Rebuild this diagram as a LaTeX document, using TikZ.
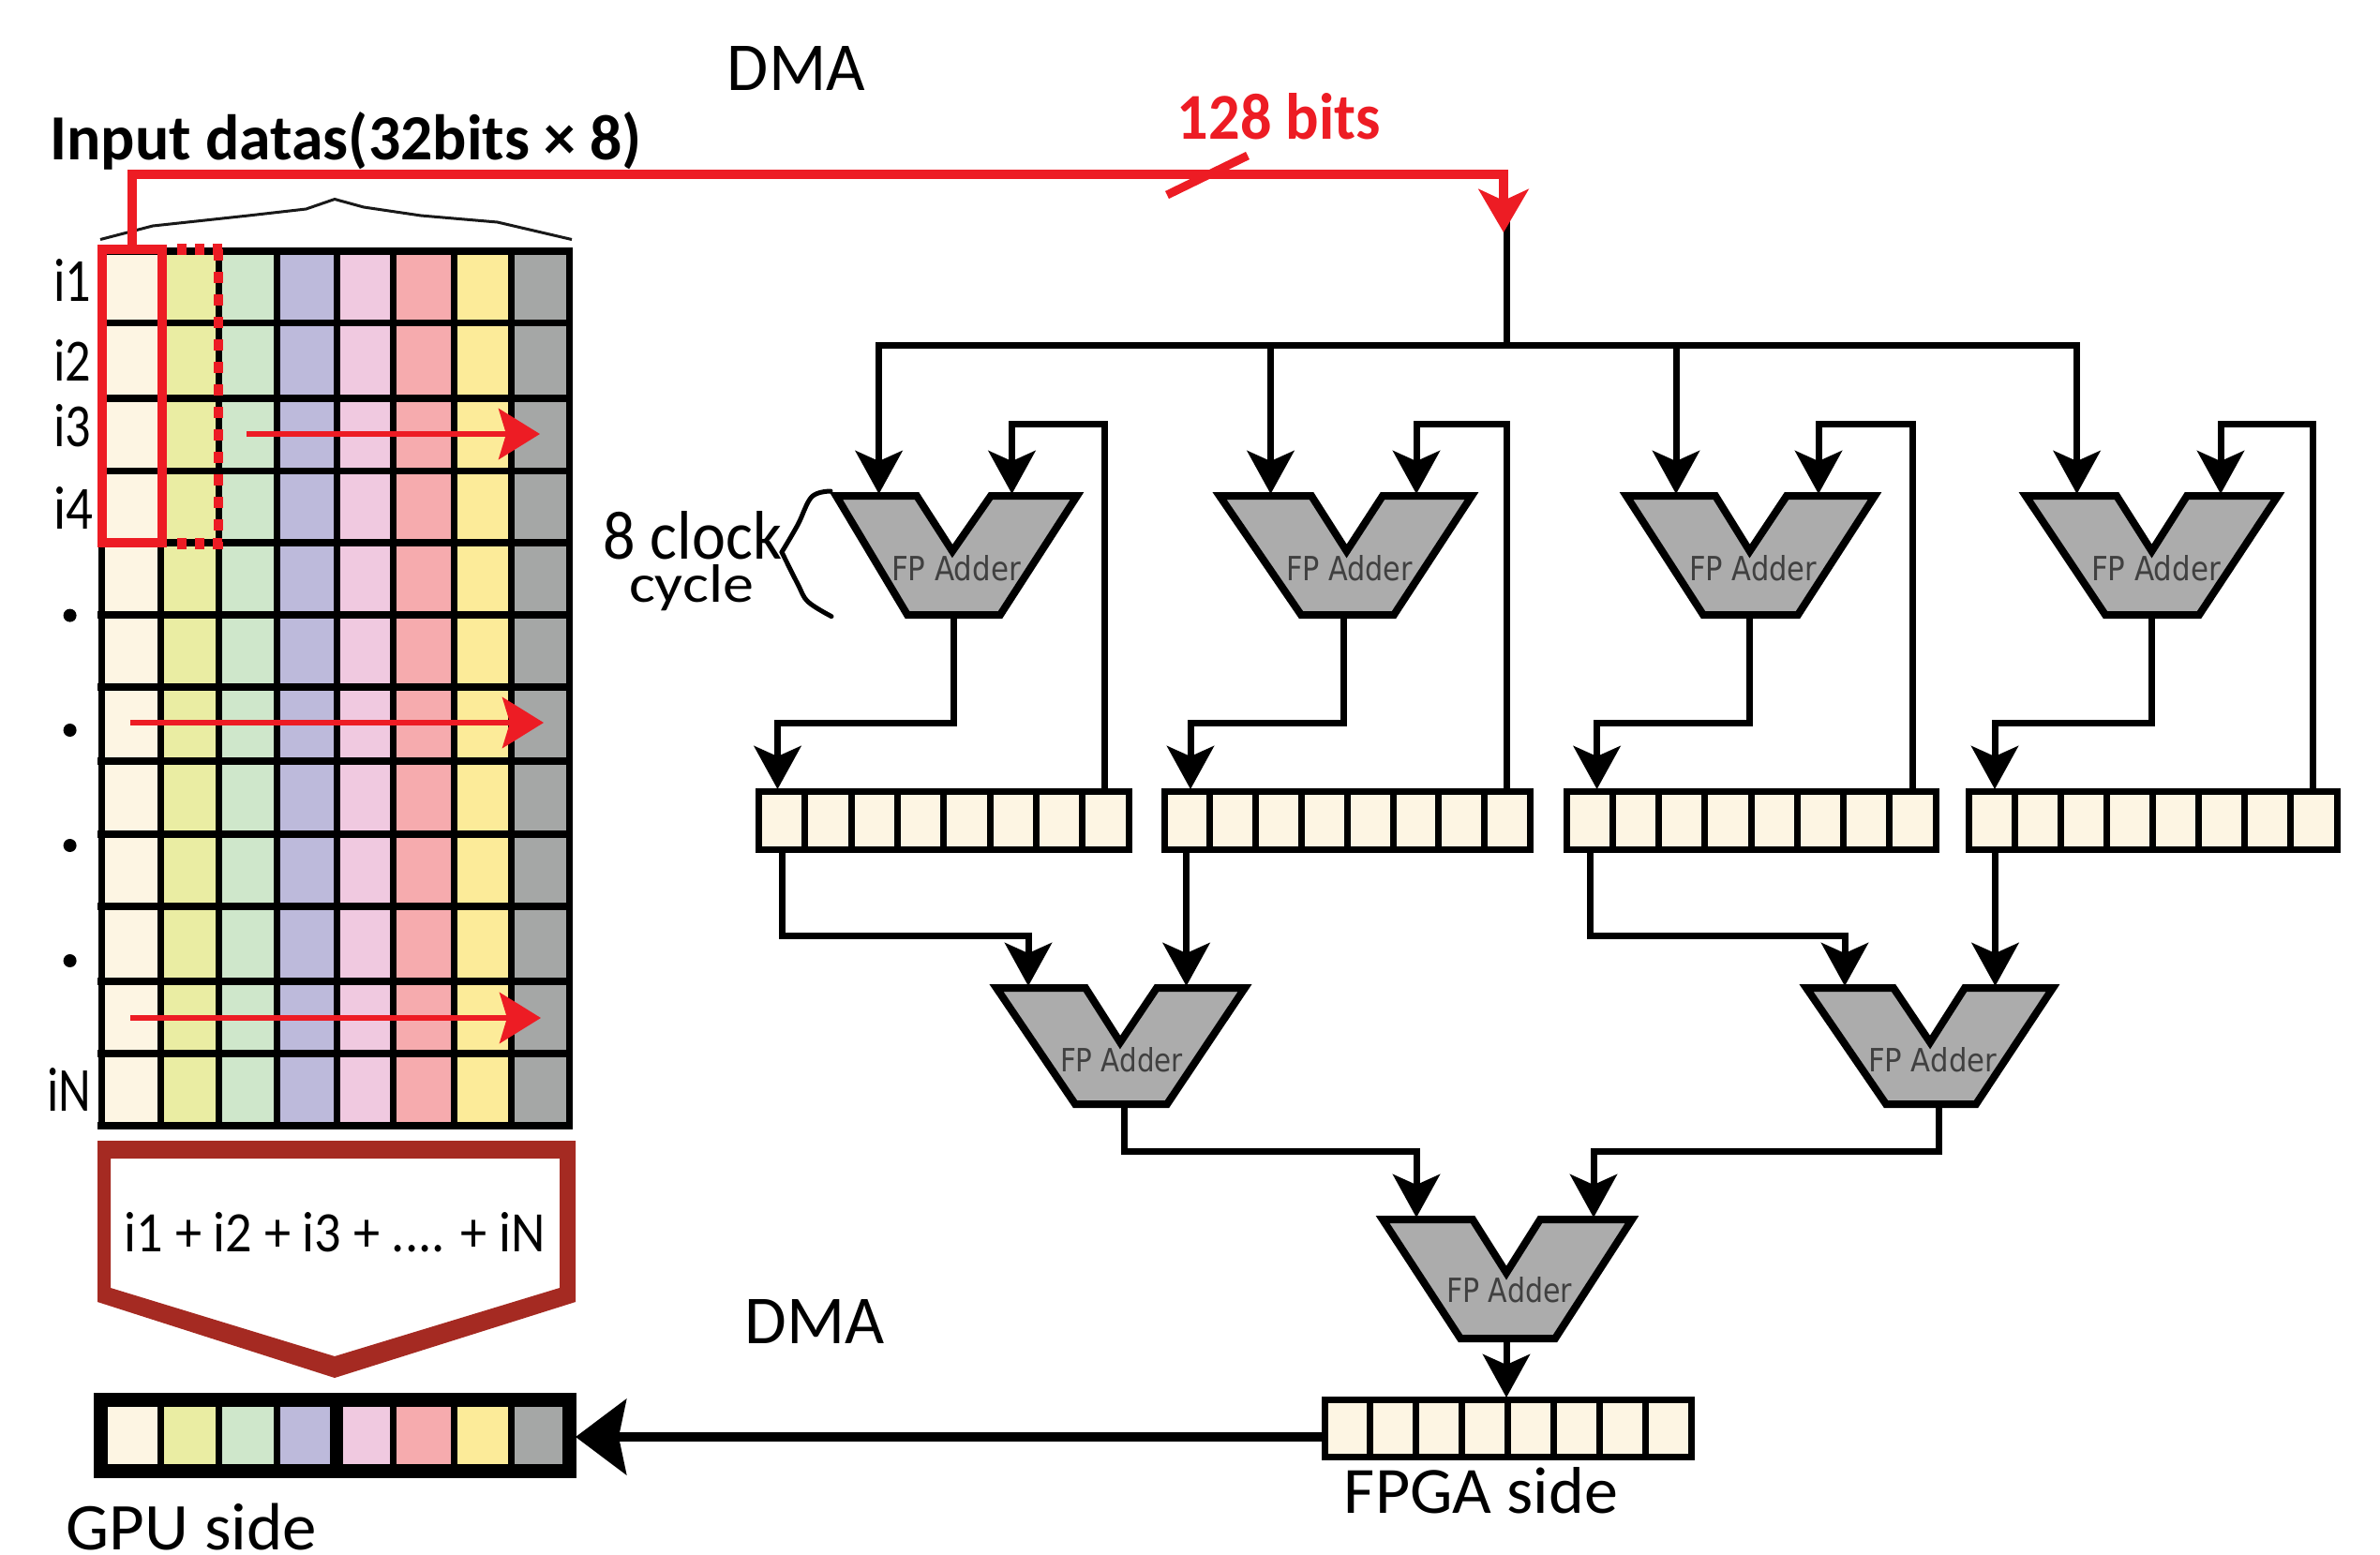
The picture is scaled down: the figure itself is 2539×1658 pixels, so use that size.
\documentclass[tikz,border=0pt]{standalone}
\usepackage{fontspec}
\usepackage{graphicx}
\setmainfont{Carlito}
\newfontfamily\addfont{DejaVu Sans}
\usetikzlibrary{arrows.meta}
\definecolor{cCream}{HTML}{FDF5E3}
\definecolor{cLime}{HTML}{EAEDA3}
\definecolor{cGreen}{HTML}{CFE7CB}
\definecolor{cPurple}{HTML}{BDBADB}
\definecolor{cPink}{HTML}{F0C9E0}
\definecolor{cSalmon}{HTML}{F6ABAE}
\definecolor{cYellow}{HTML}{FCEB99}
\definecolor{cGray}{HTML}{A5A7A6}
\definecolor{cAdder}{HTML}{ACACAC}
\definecolor{cRed}{HTML}{ED1C24}
\definecolor{cBrick}{HTML}{A52A22}
\tikzset{
  conn/.style={line width=7pt,draw=black,-{Stealth[length=46pt,width=50pt,inset=11pt]}},
  wire/.style={line width=7pt,draw=black,line cap=rect},
  adderbox/.style={fill=cAdder,draw=black,line width=8pt,line join=miter,miter limit=10},
  regbox/.style={fill=cCream,draw=black,line width=7pt},
  redpath/.style={draw=cRed,line width=10pt},
  redscan/.style={draw=cRed,line width=6pt,-{Stealth[length=44pt,width=54pt,inset=8pt]}},
  lblnode/.style={inner sep=0pt,outer sep=0pt,anchor=base},
  dotmark/.style={circle,fill=black,inner sep=0pt,minimum size=14pt}
}
% name, centre x, baseline y, width, height, font, text
\newcommand{\lbl}[7]{\node[lblnode] (#1) at (#2,#3) {\resizebox{#4pt}{#5pt}{#6#7}};}
% name, x0, x1, y0, y1
\newcommand{\regbank}[5]{%
  \draw[regbox] (#2,#4) rectangle (#3,#5);
  \foreach \k in {1,...,7}{
    \pgfmathsetmacro{\xk}{#2+(#3-#2)*\k/8}
    \draw[line width=7pt] (\xk,#4) -- (\xk,#5);
  }
  \coordinate (#1) at (#2,#4);
}
\begin{document}
\begin{tikzpicture}[x=1pt,y=-1pt]
\useasboundingbox (0,0) rectangle (2539,1658);
\fill[white] (0,0) rectangle (2539,1658);

% ---------- input matrix
\foreach \xa/\xb/\c in {108/171.5/cCream,171.5/233/cLime,233/295/cGreen,295/359/cPurple,359/419.5/cPink,419.5/484/cSalmon,484/545.5/cYellow,545.5/607.5/cGray}{
  \fill[\c] (\xa,268) rectangle (\xb,1201);
}
\foreach \yy in {268,344.5,425,502.5,579,656,733,812,890,967,1047,1124,1201}{
  \draw[line width=7.5pt,line cap=rect] (108,\yy) -- (607.5,\yy);
}
\foreach \xx in {108,171.5,233,295,359,419.5,484,545.5,607.5}{
  \draw[line width=7pt] (\xx,268) -- (\xx,1201);
}
% scan arrows
\coordinate (sa1) at (263,463);   \coordinate (sb1) at (576,463);
\coordinate (sa2) at (139,771);   \coordinate (sb2) at (580,771);
\coordinate (sa3) at (139,1086);  \coordinate (sb3) at (577,1086);
\draw[redscan] (sa1) -- (sb1);
\draw[redscan] (sa2) -- (sb2);
\draw[redscan] (sa3) -- (sb3);
% red selection
\draw[redpath,line join=miter] (108.5,266) rectangle (173,579);
\draw[draw=cRed,line width=10pt,dash pattern=on 12pt off 12pt] (233,266) -- (233,586);
\draw[draw=cRed,line width=12pt,dash pattern=on 10pt off 9pt] (189,266) -- (238,266);
\draw[draw=cRed,line width=12pt,dash pattern=on 10pt off 9pt] (189,580) -- (238,580);

% brace above the matrix
\draw[line width=3pt,black!90] (107,255.5) -- (163,241) -- (265,230) -- (326.5,223) -- (357,212.5) -- (388,221) -- (449,230) -- (530.6,237) -- (610,255.5);

% ---------- red DMA link
\coordinate (redstart) at (141,262);
\coordinate (redtip) at (1604,248);
\coordinate (riser) at (1607,218);
\coordinate (riserb) at (1607,368);
\draw[wire] (riser) -- (riserb);
\draw[redpath,-{Stealth[length=46pt,width=53pt,inset=12pt]}] (redstart) |- (redtip |- 0,185.5) -- (redtip);
\draw[draw=cRed,line width=9pt] (1245,208) -- (1331,166);

% ---------- bus
\coordinate (busL) at (937.6,368);
\coordinate (busR) at (2215.6,368);
\draw[wire] (busL) -- (busR);

% ---------- connectors into the first row of adders
\foreach \n/\xi/\xf/\xr/\xo/\xd/\xrr in {
  1/937.6/1079.5/1178.5/1017/829.5/1204,
  2/1355.5/1511/1607/1433.6/1270/1632.5,
  3/1788/1940/2040/1866.6/1703.6/2065,
  4/2215.6/2369/2467/2295.5/2128/2493}{
  \coordinate (B\n) at (\xi,368);
  \coordinate (Ain\n) at (\xi,527);
  \coordinate (Afbin\n) at (\xf,527);
  \coordinate (Afbtop\n) at (\xf,452);
  \coordinate (Rfb\n) at (\xr,844);
  \coordinate (Aout\n) at (\xo,656);
  \coordinate (Rin\n) at (\xd,842);
  \draw[conn] (B\n) -- (Ain\n);
  \draw[conn] (Rfb\n) |- (Afbtop\n) -- (Afbin\n);
  \draw[conn] (Aout\n) |- (\xd,771) -- (Rin\n);
}

% ---------- adders, first row
\draw[adderbox] (892,529) -- (978,529) -- (1016,588) -- (1057,529) -- (1149,529) -- (1067,656) -- (968,656) -- cycle;
\draw[adderbox] (1301,529) -- (1399,529) -- (1436.6,588) -- (1475,529) -- (1570,529) -- (1487,656) -- (1388,656) -- cycle;
\draw[adderbox] (1735,529) -- (1830,529) -- (1866.6,588) -- (1906,529) -- (2000,529) -- (1918,656) -- (1817,656) -- cycle;
\draw[adderbox] (2161,529) -- (2258,529) -- (2295.5,588) -- (2333,529) -- (2430,529) -- (2346,656) -- (2246,656) -- cycle;
% adders, second row
\draw[adderbox] (1063,1054) -- (1158,1054) -- (1195,1112) -- (1234,1054) -- (1328,1054) -- (1245,1178) -- (1147,1178) -- cycle;
\draw[adderbox] (1927,1054) -- (2020,1054) -- (2059,1112) -- (2096,1054) -- (2190,1054) -- (2108,1178) -- (2012,1178) -- cycle;
% adder, third row
\draw[adderbox] (1475,1301) -- (1571,1301) -- (1607,1358) -- (1643,1301) -- (1741,1301) -- (1659,1428) -- (1558,1428) -- cycle;

% ---------- register banks
\regbank{R1}{809.5}{1204}{844}{906}
\regbank{R2}{1242}{1632.5}{844}{906}
\regbank{R3}{1671}{2065}{844}{906}
\regbank{R4}{2100}{2493}{844}{906}
\regbank{R5}{1413}{1804}{1493}{1554}

% ---------- second level connectors
\coordinate (ro1) at (834.5,906);  \coordinate (ci1) at (1097,1052);
\coordinate (ro2) at (1265.6,906); \coordinate (ci2) at (1265.6,1052);
\coordinate (ro3) at (1696,906);   \coordinate (ci3) at (1968,1052);
\coordinate (ro4) at (2128.5,906); \coordinate (ci4) at (2128.5,1052);
\draw[conn] (ro1) |- (1097,998) -- (ci1);
\draw[conn] (ro2) -- (ci2);
\draw[conn] (ro3) |- (1968,998) -- (ci3);
\draw[conn] (ro4) -- (ci4);

% ---------- third level connectors
\coordinate (bo1) at (1199.6,1178); \coordinate (di1) at (1511,1299);
\coordinate (bo2) at (2068,1178);   \coordinate (di2) at (1700,1299);
\draw[conn] (bo1) |- (1511,1228) -- (di1);
\draw[conn] (bo2) |- (1700,1228) -- (di2);
\coordinate (co) at (1607,1428); \coordinate (ri5) at (1607,1491);
\draw[conn] (co) -- (ri5);

% ---------- sum pentagon
\fill[cBrick,even odd rule] (104,1217) -- (614,1217) -- (614,1389) -- (357,1470) -- (104,1389) -- cycle
  (118,1236) -- (597,1236) -- (597,1374) -- (357,1447) -- (118,1374) -- cycle;

% ---------- GPU result row
\foreach \xa/\xb/\c in {107/171/cCream,171/233/cLime,233/295/cGreen,295/359/cPurple,359/419/cPink,419/484/cSalmon,484/545/cYellow,545/607/cGray}{
  \fill[\c] (\xa,1493) rectangle (\xb,1569.5);
}
\foreach \xx in {171,233,295,419,484,545}{
  \draw[line width=7pt] (\xx,1493) -- (\xx,1569.5);
}
\draw[line width=14pt] (359,1493) -- (359,1569.5);
\draw[line width=15pt] (107,1493) rectangle (607,1569.5);
\coordinate (gpuport) at (614,1533);
\coordinate (fpgaport) at (1411,1533);
\draw[line width=10pt,-{Stealth[length=54pt,width=80pt,inset=8pt]}] (fpgaport) -- (gpuport);

% ---------- curly mark
\draw[line width=5pt,line cap=round] plot[smooth,tension=.6] coordinates {(886,524) (866,530) (851,560) (834,589)};
\draw[line width=5pt,line cap=round] plot[smooth,tension=.6] coordinates {(834,589) (851,623) (862,642) (887,657.6)};

% ---------- labels
\lbl{tDma1}{849.5}{96}{147}{47}{}{DMA}
\lbl{tDma2}{869}{1433}{149}{47}{}{DMA}
\lbl{tBits}{1364.5}{148}{217}{49}{\bfseries\color{cRed}}{128 bits}
\lbl{tInput}{369}{170}{631}{51}{\bfseries}{Input datas(32bits × 8)}
\lbl{tI1}{77}{321.6}{40}{45}{}{i1}
\lbl{tI2}{77}{406}{40}{44}{}{i2}
\lbl{tI3}{77}{476}{40}{45}{}{i3}
\lbl{tI4}{78}{564}{42}{45}{}{i4}
\lbl{tIN}{74}{1185.6}{47}{46}{}{iN}
\lbl{tClock}{739}{596}{190}{51}{}{8 clock}
\lbl{tCycle}{737.5}{642}{133}{40}{}{cycle}
\lbl{tSum}{357.5}{1335}{449}{42}{}{i1 + i2 + i3 + .... + iN}
\lbl{tFpga}{1580}{1614}{292}{49}{}{FPGA side}
\lbl{tGpu}{204.5}{1653}{267}{49.5}{}{GPU side}
\lbl{tA1}{1020}{619.4}{138}{27}{\addfont\color{black!75}}{FP Adder}
\lbl{tA2}{1439.5}{619.4}{135}{27}{\addfont\color{black!75}}{FP Adder}
\lbl{tA3}{1870}{619.4}{136}{27}{\addfont\color{black!75}}{FP Adder}
\lbl{tA4}{2300}{619.4}{138}{27}{\addfont\color{black!75}}{FP Adder}
\lbl{tB1}{1196.5}{1143}{131}{26}{\addfont\color{black!75}}{FP Adder}
\lbl{tB2}{2061.5}{1143}{137}{26}{\addfont\color{black!75}}{FP Adder}
\lbl{tC}{1610}{1389}{134}{27}{\addfont\color{black!75}}{FP Adder}

\node[dotmark] (d1) at (74.6,656.6) {};
\node[dotmark] (d2) at (74.6,779) {};
\node[dotmark] (d3) at (74.6,902) {};
\node[dotmark] (d4) at (74.6,1025) {};
\end{tikzpicture}
\end{document}
